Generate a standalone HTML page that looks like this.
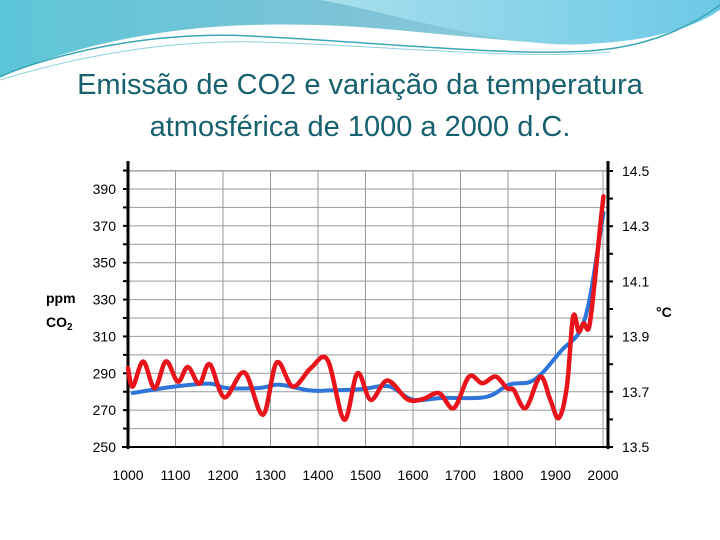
<!DOCTYPE html>
<html><head><meta charset="utf-8"><style>
body{margin:0;width:720px;height:540px;overflow:hidden;background:#fff;font-family:"Liberation Sans",sans-serif}
</style></head><body>
<svg width="720" height="540" style="position:absolute;left:0;top:0">
<defs>
<linearGradient id="g1" x1="0" y1="0" x2="1" y2="0"><stop offset="0" stop-color="#5cc6d8"/><stop offset="0.5" stop-color="#7ec3d6"/><stop offset="1" stop-color="#9ad6e4"/></linearGradient>
<linearGradient id="g2" x1="0" y1="0" x2="1" y2="0"><stop offset="0" stop-color="#b4e4ec"/><stop offset="1" stop-color="#6cc9e6"/></linearGradient>
</defs>
<g>
<path d="M0,0 H720 V5 C640,40 600,50 530,42 C430,35 360,22 250,25 C150,28 60,50 0,78 Z" fill="url(#g1)"/>
<path d="M240,0 H720 V10 C690,30 640,45 560,44 C480,42 380,10 320,0 Z" fill="url(#g2)"/>
<path d="M0,76 C80,45 170,32 250,36 C380,42 520,58 600,50 C660,44 700,20 720,5" fill="none" stroke="#3aa6b6" stroke-width="1.5"/>
<path d="M0,80 C90,52 180,40 260,42 C390,46 520,60 610,52" fill="none" stroke="#8fd0dc" stroke-width="1"/>
</g>
<text x="360" y="94" text-anchor="middle" font-size="29" fill="#17606e" font-family="Liberation Sans, sans-serif">Emissão de CO2 e variação da temperatura</text>
<text x="360" y="136" text-anchor="middle" font-size="29" fill="#17606e" font-family="Liberation Sans, sans-serif">atmosférica de 1000 a 2000 d.C.</text>
<g id="chart"></g>
</svg>
<script>
const years=[1000,1100,1200,1300,1400,1500,1600,1700,1800,1900,2000];
const ppmTicks=[250,270,290,310,330,350,370,390];
const tempTicks=[13.5,13.7,13.9,14.1,14.3,14.5];
const co2Years=[1010,1101,1172,1207,1277,1319,1382,1424,1494,1550,1599,1662,1753,1802,1844,1872,1914,1949,1970,1991,2001];
const co2Values=[279.3,282.9,284.4,282,282,283.8,280.7,280.7,281.5,282.9,275.7,276.6,277.1,283.8,285.1,290.1,302.8,311.8,328,360.7,377];
const tempYears=[1000,1010,1032,1056,1080,1105,1126,1150,1172,1203,1245,1284,1313,1347,1385,1420,1455,1483,1511,1546,1588,1620,1655,1686,1718,1746,1774,1798,1812,1837,1868,1889,1907,1924,1937,1949,1959,1970,1980,1994,2001];
const tempValues=[13.786,13.719,13.81,13.713,13.81,13.737,13.79,13.729,13.80,13.68,13.77,13.617,13.806,13.719,13.786,13.816,13.599,13.767,13.671,13.741,13.673,13.673,13.695,13.641,13.755,13.731,13.755,13.713,13.707,13.641,13.755,13.671,13.605,13.719,13.972,13.918,13.948,13.93,14.057,14.298,14.408];

const NS="http://www.w3.org/2000/svg";
const g=document.getElementById('chart');
const X0=128,X1=603,YB=447,YT=171,XR=608;
const x=v=>X0+(v-1000)*(X1-X0)/1000;
const yL=v=>YB-(v-250)*(YB-189)/140;
const yR=v=>YB-(v-13.5)*(YB-YT)/1;
function mk(t,a){const e=document.createElementNS(NS,t);for(const k in a)e.setAttribute(k,a[k]);g.appendChild(e);return e;}
function smooth(pts){let d='M'+pts[0][0]+','+pts[0][1];
 for(let i=0;i<pts.length-1;i++){const p0=pts[i-1]||pts[i],p1=pts[i],p2=pts[i+1],p3=pts[i+2]||p2;
  const c1x=p1[0]+(p2[0]-p0[0])/6,c1y=p1[1]+(p2[1]-p0[1])/6,c2x=p2[0]-(p3[0]-p1[0])/6,c2y=p2[1]-(p3[1]-p1[1])/6;
  d+=' C'+c1x+','+c1y+' '+c2x+','+c2y+' '+p2[0]+','+p2[1];}
 return d;}
for(let p=250;p<=410;p+=10){const yy=yL(p);if(yy<YT-1)break;
 const l=mk('line',{x1:X0,x2:XR,y1:yy,y2:yy,stroke:'#999','stroke-width':1});
 
 }
mk('line',{x1:X0,x2:XR,y1:YT,y2:YT,stroke:'#999','stroke-width':1});
years.forEach(yv=>{const l=mk('line',{x1:x(yv),x2:x(yv),y1:YT,y2:YB,stroke:'#999','stroke-width':1});
 
 
 const t=mk('text',{x:x(yv),y:480,'text-anchor':'middle','font-size':14,fill:'#000'});t.textContent=yv;
 
 });
const la=mk('line',{x1:X0,x2:X0,y1:YT-10,y2:YB+2,stroke:'#000','stroke-width':3});


const ra=mk('line',{x1:XR,x2:XR,y1:YT-10,y2:YB+2,stroke:'#000','stroke-width':3});


const ba=mk('line',{x1:X0-6,x2:XR,y1:YB,y2:YB,stroke:'#000','stroke-width':2});


for(let p=250;p<=400;p+=10){const yy=yL(p);if(yy<YT-8)break;mk('line',{x1:X0-5,x2:X0,y1:yy,y2:yy,stroke:'#000','stroke-width':2});}
for(let t=13.5;t<=14.51;t+=0.1){mk('line',{x1:XR,x2:XR+5,y1:yR(t),y2:yR(t),stroke:'#000','stroke-width':2});}
ppmTicks.forEach(p=>{const t=mk('text',{x:116,y:yL(p)+5,'text-anchor':'end','font-size':14});t.textContent=p;
 
 });
tempTicks.forEach(v=>{const t=mk('text',{x:622,y:yR(v)+5,'font-size':14});t.textContent=v.toFixed(1);
 
 });
let t=mk('text',{x:46,y:303,'font-size':14,'font-weight':'bold'});t.textContent='ppm';


t=mk('text',{x:46,y:327,'font-size':14,'font-weight':'bold'});t.innerHTML='CO<tspan font-size="10" dy="3">2</tspan>';


t=mk('text',{x:656,y:317,'font-size':14,'font-weight':'bold'});t.textContent='°C';


const co2=mk('path',{d:smooth(co2Years.map((yv,i)=>[x(yv),yL(co2Values[i])])),fill:'none',stroke:'#2f74d8','stroke-width':4,'stroke-linejoin':'round','stroke-linecap':'round'});


const tp=mk('path',{d:smooth(tempYears.map((yv,i)=>[x(yv),yR(tempValues[i])])),fill:'none',stroke:'#e8141c','stroke-width':4.5,'stroke-linejoin':'round','stroke-linecap':'round'});


</script>
</body></html>
